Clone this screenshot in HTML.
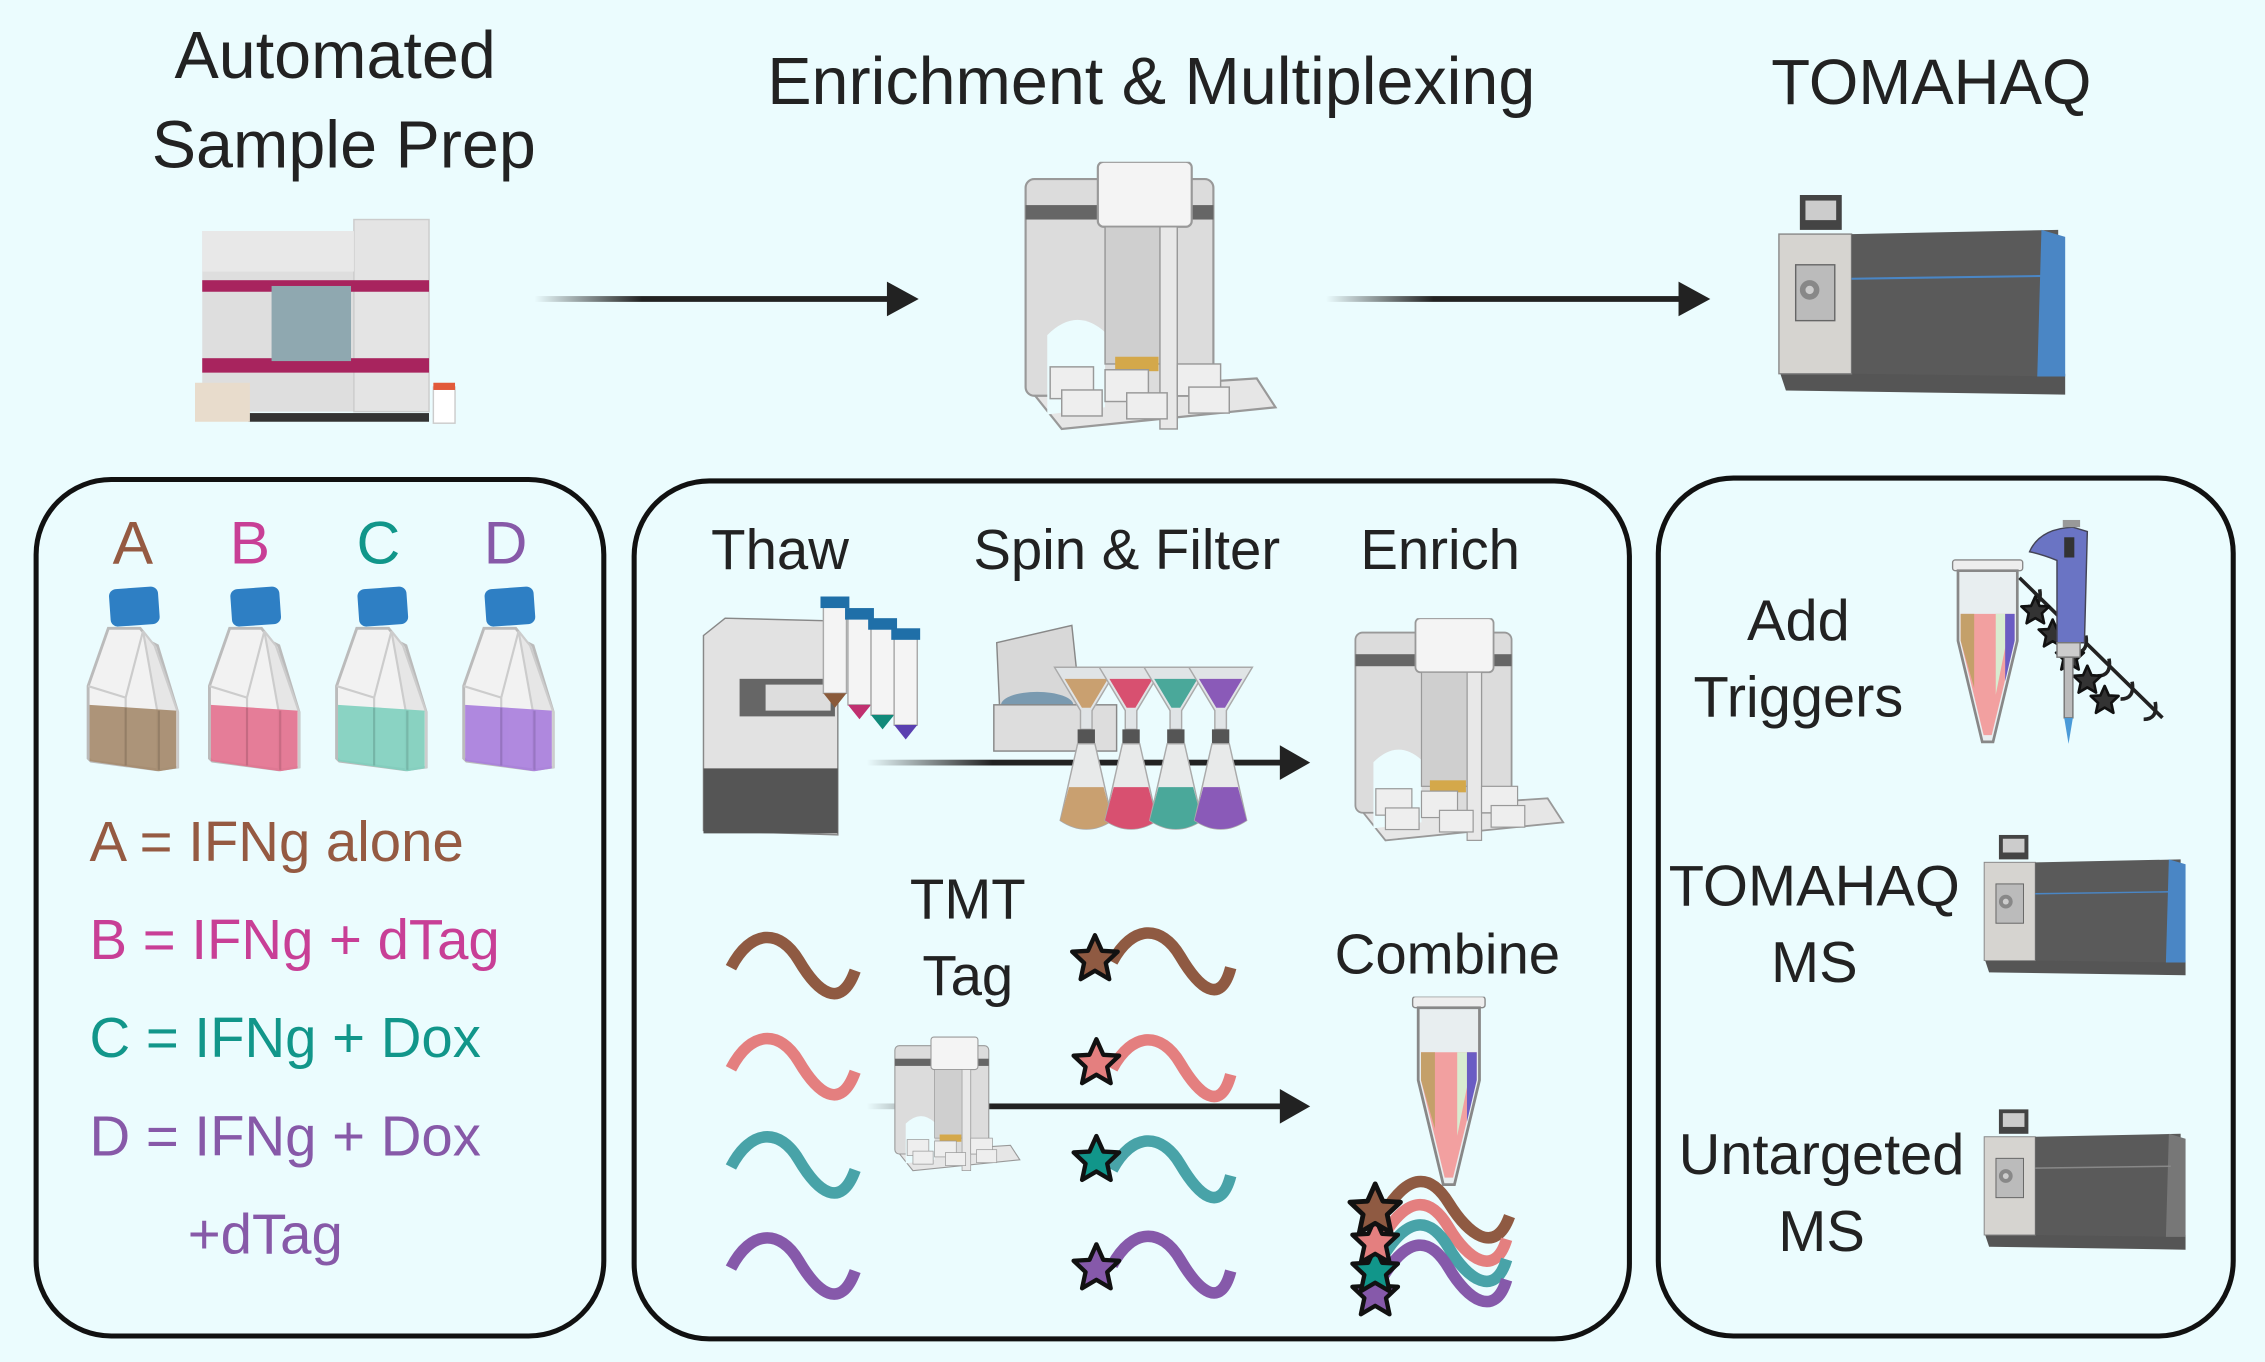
<!DOCTYPE html>
<html><head><meta charset="utf-8">
<style>
html,body{margin:0;padding:0;background:#ebfcfe;}
svg{display:block;}
text{font-family:"Liberation Sans","DejaVu Sans",sans-serif;}
</style></head>
<body>
<svg width="2265" height="1362" viewBox="0 0 1568 943" preserveAspectRatio="none" xmlns="http://www.w3.org/2000/svg">
<defs>
<linearGradient id="ag" x1="0" x2="1" y1="0" y2="0">
<stop offset="0" stop-color="#222" stop-opacity="0"/><stop offset="0.3" stop-color="#222" stop-opacity="1"/><stop offset="1" stop-color="#222"/>
</linearGradient>
<symbol id="lh" viewBox="0 0 180 190">
<polygon points="10,160 165,150 178,170 30,185" fill="#e6e6e6" stroke="#999" stroke-width="1.5"/>
<rect x="5" y="12" width="130" height="150" rx="6" fill="#dcdcdc" stroke="#999" stroke-width="1.5"/>
<rect x="5" y="30" width="130" height="10" fill="#666"/>
<path d="M20,120 Q40,100 60,118 L60,170 L20,175 Z" fill="#ebfcfe"/>
<rect x="55" y="0" width="65" height="45" rx="4" fill="#f4f4f4" stroke="#999" stroke-width="1.5"/>
<rect x="60" y="45" width="50" height="95" fill="#cfcfcf" stroke="#999"/>
<rect x="98" y="45" width="12" height="140" fill="#e8e8e8" stroke="#999"/>
<rect x="67" y="135" width="30" height="10" fill="#d4a84a"/>
<g fill="#eee" stroke="#999"><rect x="22" y="142" width="30" height="22"/><rect x="60" y="144" width="30" height="22"/><rect x="110" y="140" width="30" height="22"/><rect x="30" y="158" width="28" height="18"/><rect x="75" y="160" width="28" height="18"/><rect x="118" y="156" width="28" height="18"/></g>
</symbol>
<symbol id="ms" viewBox="0 0 210 150">
<rect x="15" y="0" width="30" height="25" fill="#444"/><rect x="19" y="4" width="22" height="14" fill="#ccc"/>
<polygon points="0,125 205,128 205,143 5,140" fill="#555"/>
<rect x="0" y="28" width="52" height="100" fill="#d6d4d0" stroke="#888"/>
<polygon points="52,28 200,25 200,130 52,128" fill="#5a5a5a"/>
<polygon points="188,25 205,30 205,130 185,130" fill="#4a86c5"/>
<line x1="52" y1="60" x2="190" y2="58" stroke="#4a86c5" stroke-width="1.5"/>
<rect x="12" y="50" width="28" height="40" fill="#bbb" stroke="#666"/><circle cx="22" cy="68" r="7" fill="#888"/><circle cx="22" cy="68" r="3" fill="#ccc"/>
</symbol>
<symbol id="ms2" viewBox="0 0 210 150">
<rect x="15" y="0" width="30" height="25" fill="#444"/><rect x="19" y="4" width="22" height="14" fill="#ccc"/>
<polygon points="0,125 205,128 205,143 5,140" fill="#555"/>
<rect x="0" y="28" width="52" height="100" fill="#d6d4d0" stroke="#888"/>
<polygon points="52,28 200,25 200,130 52,128" fill="#5a5a5a"/>
<polygon points="188,25 205,30 205,130 185,130" fill="#777"/>
<line x1="52" y1="60" x2="190" y2="58" stroke="#888" stroke-width="1.5"/>
<rect x="12" y="50" width="28" height="40" fill="#bbb" stroke="#666"/><circle cx="22" cy="68" r="7" fill="#888"/><circle cx="22" cy="68" r="3" fill="#ccc"/>
</symbol>
<symbol id="cf" viewBox="0 0 66 130">
<path d="M16,30 L38,30 L46,40 L50,42 L64,88 L64,126 L50,128 L4,122 L2,120 L2,70 Z" fill="#f2f2f2" stroke="#bbb" stroke-width="2"/>
<path d="M40,32 L48,42 L64,88 L64,126 L50,128 L50,88 Z" fill="#e6e6e6" stroke="#ccc" stroke-width="1.5"/>
<line x1="2" y1="70" x2="28" y2="78" stroke="#ccc" stroke-width="1.5"/>
<line x1="28" y1="78" x2="28" y2="124" stroke="#ccc" stroke-width="1.5"/>
<line x1="28" y1="78" x2="40" y2="32" stroke="#ccc" stroke-width="1.5"/>
<rect x="17" y="2" width="34" height="26" rx="5" fill="#2e7fc4" transform="rotate(-4 34 15)"/>
</symbol>
<symbol id="star" viewBox="-12 -12 24 24">
<path d="M0,-11 L3.2,-3.8 L10.5,-3.4 L5,1.8 L6.6,9.3 L0,5.4 L-6.6,9.3 L-5,1.8 L-10.5,-3.4 L-3.2,-3.8 Z" stroke="#111" stroke-width="2" stroke-linejoin="round"/>
</symbol>
<symbol id="tube" viewBox="0 0 60 140">
<rect x="4" y="0" width="52" height="8" rx="2" fill="#eee" stroke="#888"/>
<path d="M8,8 L52,8 L52,60 L34,135 L26,135 L8,60 Z" fill="#e8eef0" stroke="#888" stroke-width="2"/>
<path d="M10,40 L50,40 L50,60 L33,130 L27,130 L10,60 Z" fill="#f2a0a0"/>
<path d="M10,40 L20,40 L20,95 L10,60 Z" fill="#c4a06a"/>
<path d="M36,40 L43,40 L43,65 L36,100 Z" fill="#d8ecd0"/>
<path d="M43,40 L50,40 L50,60 L43,90 Z" fill="#6a5cc4"/>
</symbol>
</defs>

<g fill="#222" text-anchor="middle">
<text x="232" y="54" font-size="46">Automated</text>
<text x="238" y="116" font-size="46">Sample Prep</text>
<text x="797" y="72" font-size="46">Enrichment &amp; Multiplexing</text>
<text x="1337" y="72" font-size="44">TOMAHAQ</text>
</g>

<g>
<rect x="140" y="160" width="105" height="125" fill="#dedede"/>
<rect x="245" y="152" width="52" height="133" fill="#e4e4e4" stroke="#ccc"/>
<rect x="140" y="160" width="105" height="28" fill="#e8e8e8"/>
<rect x="140" y="194" width="157" height="8" fill="#a8245e"/>
<rect x="140" y="248" width="157" height="10" fill="#a8245e"/>
<rect x="188" y="198" width="55" height="52" fill="#8fa8b0"/>
<rect x="172" y="286" width="125" height="6" fill="#333"/>
<rect x="135" y="265" width="38" height="27" fill="#e8dccc"/>
<rect x="300" y="268" width="15" height="25" fill="#fff" stroke="#ccc"/><rect x="300" y="265" width="15" height="5" fill="#e25a3a"/>
</g>

<rect x="370" y="205" width="248" height="4" fill="url(#ag)"/>
<polygon points="614,195 636,207 614,219" fill="#222"/>
<rect x="918" y="205" width="248" height="4" fill="url(#ag)"/>
<polygon points="1162,195 1184,207 1162,219" fill="#222"/>

<use href="#lh" x="705" y="112" width="180" height="190"/>
<use href="#ms" x="1228" y="135" width="210" height="145"/>

<g fill="none" stroke="#111" stroke-width="3.5">
<rect x="25" y="332" width="393" height="593" rx="52"/>
<rect x="439" y="333" width="689" height="594" rx="52"/>
<rect x="1148" y="331" width="398" height="594" rx="52"/>
</g>

<g font-size="42" text-anchor="middle">
<text x="92" y="390" fill="#955a42">A</text>
<text x="173" y="390" fill="#c83f96">B</text>
<text x="262" y="390" fill="#11968a">C</text>
<text x="350" y="390" fill="#8759a8">D</text>
</g>
<use href="#cf" x="59" y="405" width="66" height="130"/>
<use href="#cf" x="143" y="405" width="66" height="130"/>
<use href="#cf" x="231" y="405" width="66" height="130"/>
<use href="#cf" x="319" y="405" width="66" height="130"/>
<g opacity="0.9">
<polygon points="62,488 122,492 122,532 110,534 62,527" fill="#a58a6c"/>
<polygon points="146,488 206,492 206,532 194,534 146,527" fill="#e4718f"/>
<polygon points="234,488 294,492 294,532 282,534 234,527" fill="#7fd0be"/>
<polygon points="322,488 382,492 382,532 370,534 322,527" fill="#a87ddd"/>
</g>
<g stroke="#000" stroke-opacity="0.12" stroke-width="1.5">
<line x1="87" y1="490" x2="87" y2="530"/><line x1="171" y1="490" x2="171" y2="530"/><line x1="259" y1="490" x2="259" y2="530"/><line x1="347" y1="490" x2="347" y2="530"/>
<line x1="110" y1="492" x2="110" y2="533"/><line x1="194" y1="492" x2="194" y2="533"/><line x1="282" y1="492" x2="282" y2="533"/><line x1="370" y1="492" x2="370" y2="533"/>
</g>
<g font-size="39">
<text x="62" y="596" fill="#955a42">A = IFNg alone</text>
<text x="62" y="664" fill="#c83f96">B = IFNg + dTag</text>
<text x="62" y="732" fill="#11968a">C = IFNg + Dox</text>
<text x="62" y="800" fill="#8759a8">D = IFNg + Dox</text>
<text x="130" y="868" fill="#8759a8">+dTag</text>
</g>

<g fill="#222" font-size="39" text-anchor="middle">
<text x="540" y="394">Thaw</text>
<text x="780" y="394">Spin &amp; Filter</text>
<text x="997" y="394">Enrich</text>
<text x="670" y="636">TMT</text>
<text x="670" y="689">Tag</text>
<text x="1002" y="674">Combine</text>
</g>
<polygon points="487,440 502,428 580,430 580,578 487,575" fill="#e2e2e2" stroke="#888"/>
<rect x="487" y="532" width="93" height="45" fill="#555"/>
<rect x="512" y="470" width="66" height="26" fill="#666"/><rect x="530" y="474" width="45" height="18" fill="#ddd"/>
<g>
<rect x="570" y="418" width="16" height="62" fill="#f4f4f4" stroke="#aaa"/><rect x="568" y="413" width="20" height="8" fill="#1f6fa8"/><polygon points="570,480 586,480 578,490" fill="#8a5a3a"/>
<rect x="587" y="426" width="16" height="62" fill="#f4f4f4" stroke="#aaa"/><rect x="585" y="421" width="20" height="8" fill="#1f6fa8"/><polygon points="587,488 603,488 595,498" fill="#c03070"/>
<rect x="603" y="433" width="16" height="62" fill="#f4f4f4" stroke="#aaa"/><rect x="601" y="428" width="20" height="8" fill="#1f6fa8"/><polygon points="603,495 619,495 611,505" fill="#118a7a"/>
<rect x="619" y="440" width="16" height="62" fill="#f4f4f4" stroke="#aaa"/><rect x="617" y="435" width="20" height="8" fill="#1f6fa8"/><polygon points="619,502 635,502 627,512" fill="#5a40b0"/>
</g>
<polygon points="690,445 742,433 748,490 692,490" fill="#d8d8d8" stroke="#888"/>
<ellipse cx="718" cy="488" rx="25" ry="9" fill="#7a9ab0"/>
<rect x="688" y="488" width="85" height="32" fill="#ddd" stroke="#888"/>
<rect x="600" y="526" width="290" height="4" fill="url(#ag)"/>
<polygon points="886,516 907,528 886,540" fill="#222"/>
<rect x="600" y="764" width="290" height="4" fill="url(#ag)"/>
<polygon points="886,754 907,766 886,778" fill="#222"/>
<g>
<g transform="translate(752,0)"><path d="M-22,462 L22,462 L4,492 L4,505 L-4,505 L-4,492 Z" fill="#e0e4e6" stroke="#aaa"/><path d="M-15,470 L15,470 L3,490 L-3,490 Z" fill="#c9a070"/><rect x="-6" y="505" width="12" height="10" fill="#555"/><path d="M-6,515 L6,515 L18,568 Q0,580 -18,568 Z" fill="#e8eaea" stroke="#aaa"/><path d="M-12,545 L12,545 L18,568 Q0,580 -18,568 Z" fill="#c9a070"/></g>
<g transform="translate(783,0)"><path d="M-22,462 L22,462 L4,492 L4,505 L-4,505 L-4,492 Z" fill="#e0e4e6" stroke="#aaa"/><path d="M-15,470 L15,470 L3,490 L-3,490 Z" fill="#d85070"/><rect x="-6" y="505" width="12" height="10" fill="#555"/><path d="M-6,515 L6,515 L18,568 Q0,580 -18,568 Z" fill="#e8eaea" stroke="#aaa"/><path d="M-12,545 L12,545 L18,568 Q0,580 -18,568 Z" fill="#d85070"/></g>
<g transform="translate(814,0)"><path d="M-22,462 L22,462 L4,492 L4,505 L-4,505 L-4,492 Z" fill="#e0e4e6" stroke="#aaa"/><path d="M-15,470 L15,470 L3,490 L-3,490 Z" fill="#4aa89a"/><rect x="-6" y="505" width="12" height="10" fill="#555"/><path d="M-6,515 L6,515 L18,568 Q0,580 -18,568 Z" fill="#e8eaea" stroke="#aaa"/><path d="M-12,545 L12,545 L18,568 Q0,580 -18,568 Z" fill="#4aa89a"/></g>
<g transform="translate(845,0)"><path d="M-22,462 L22,462 L4,492 L4,505 L-4,505 L-4,492 Z" fill="#e0e4e6" stroke="#aaa"/><path d="M-15,470 L15,470 L3,490 L-3,490 Z" fill="#8a5ab8"/><rect x="-6" y="505" width="12" height="10" fill="#555"/><path d="M-6,515 L6,515 L18,568 Q0,580 -18,568 Z" fill="#e8eaea" stroke="#aaa"/><path d="M-12,545 L12,545 L18,568 Q0,580 -18,568 Z" fill="#8a5ab8"/></g>
</g>
<use href="#lh" x="933" y="428" width="152" height="158"/>
<use href="#lh" x="617" y="708" width="90" height="115"/>

<g fill="none" stroke-width="8" stroke-linecap="butt">
<path d="M506,670 C520,643 540,643 553,665 S582,700 592,672" stroke="#8f5a42"/>
<path d="M506,740 C520,713 540,713 553,735 S582,770 592,742" stroke="#e47f7f"/>
<path d="M506,808 C520,781 540,781 553,803 S582,838 592,810" stroke="#48a3a8"/>
<path d="M506,878 C520,851 540,851 553,873 S582,908 592,880" stroke="#8659aa"/>
<path d="M770,666 C784,640 804,640 817,662 S845,697 852,670" stroke="#8f5a42"/>
<path d="M770,740 C784,714 804,714 817,736 S845,771 852,744" stroke="#e47f7f"/>
<path d="M770,810 C784,784 804,784 817,806 S845,841 852,814" stroke="#48a3a8"/>
<path d="M770,876 C784,850 804,850 817,872 S845,907 852,880" stroke="#8659aa"/>
<path d="M958,840 C975,812 990,812 1003,833 S1035,870 1045,842" stroke="#8f5a42"/>
<path d="M958,855 C975,828 990,828 1003,850 S1035,885 1043,858" stroke="#e47f7f"/>
<path d="M958,869 C975,842 990,842 1003,864 S1035,899 1043,872" stroke="#48a3a8"/>
<path d="M958,883 C975,856 990,856 1003,878 S1035,913 1043,886" stroke="#8659aa"/>
</g>
<use href="#star" x="740" y="646" width="36" height="36" fill="#8f5a42"/>
<use href="#star" x="741" y="718" width="36" height="36" fill="#e47f7f"/>
<use href="#star" x="741" y="785" width="36" height="36" fill="#11968a"/>
<use href="#star" x="741" y="860" width="36" height="36" fill="#8659aa"/>
<use href="#star" x="934" y="878" width="36" height="36" fill="#8659aa"/>
<use href="#star" x="934" y="862" width="36" height="36" fill="#11968a"/>
<use href="#star" x="934" y="842" width="36" height="36" fill="#e47f7f"/>
<use href="#star" x="932" y="818" width="40" height="40" fill="#8f5a42"/>
<use href="#tube" x="973" y="690" width="60" height="135"/>

<g fill="#222" font-size="40" text-anchor="middle">
<text x="1245" y="443">Add</text>
<text x="1245" y="496">Triggers</text>
<text x="1256" y="627">TOMAHAQ</text>
<text x="1256" y="680">MS</text>
<text x="1261" y="813">Untargeted</text>
<text x="1261" y="866">MS</text>
</g>
<g fill="none" stroke="#222" stroke-width="2.5">
<path d="M1398,400 L1497,497"/>
<path d="M1404,420 q10,0 8,-12 M1420,436 q10,0 8,-12 M1436,452 q10,0 8,-12 M1452,468 q10,0 8,-12 M1468,484 q10,0 8,-12 M1484,498 q10,0 8,-12"/>
</g>
<g fill="#333">
<use href="#star" x="1398" y="412" width="22" height="22"/>
<use href="#star" x="1410" y="428" width="22" height="22"/>
<use href="#star" x="1422" y="444" width="22" height="22"/>
<use href="#star" x="1434" y="460" width="22" height="22"/>
<use href="#star" x="1446" y="474" width="22" height="22"/>
</g>
<use href="#tube" x="1348" y="384" width="56" height="138"/>
<g>
<path d="M1405,382 Q1412,366 1435,365 L1445,368 L1443,445 L1424,445 L1424,388 Q1414,384 1405,382 Z" fill="#6a74c4" stroke="#445"/>
<rect x="1429" y="372" width="7" height="14" fill="#333"/>
<rect x="1424" y="445" width="16" height="10" fill="#ccc" stroke="#777"/>
<rect x="1429" y="455" width="6" height="42" fill="#bbb" stroke="#777"/>
<path d="M1429,497 L1435,497 L1432,515 Z" fill="#4a9ad8"/>
<rect x="1428" y="360" width="12" height="5" fill="#999"/>
</g>
<use href="#ms" x="1372" y="578" width="146" height="102"/>
<use href="#ms2" x="1372" y="768" width="146" height="102"/>
</svg>
</body></html>
